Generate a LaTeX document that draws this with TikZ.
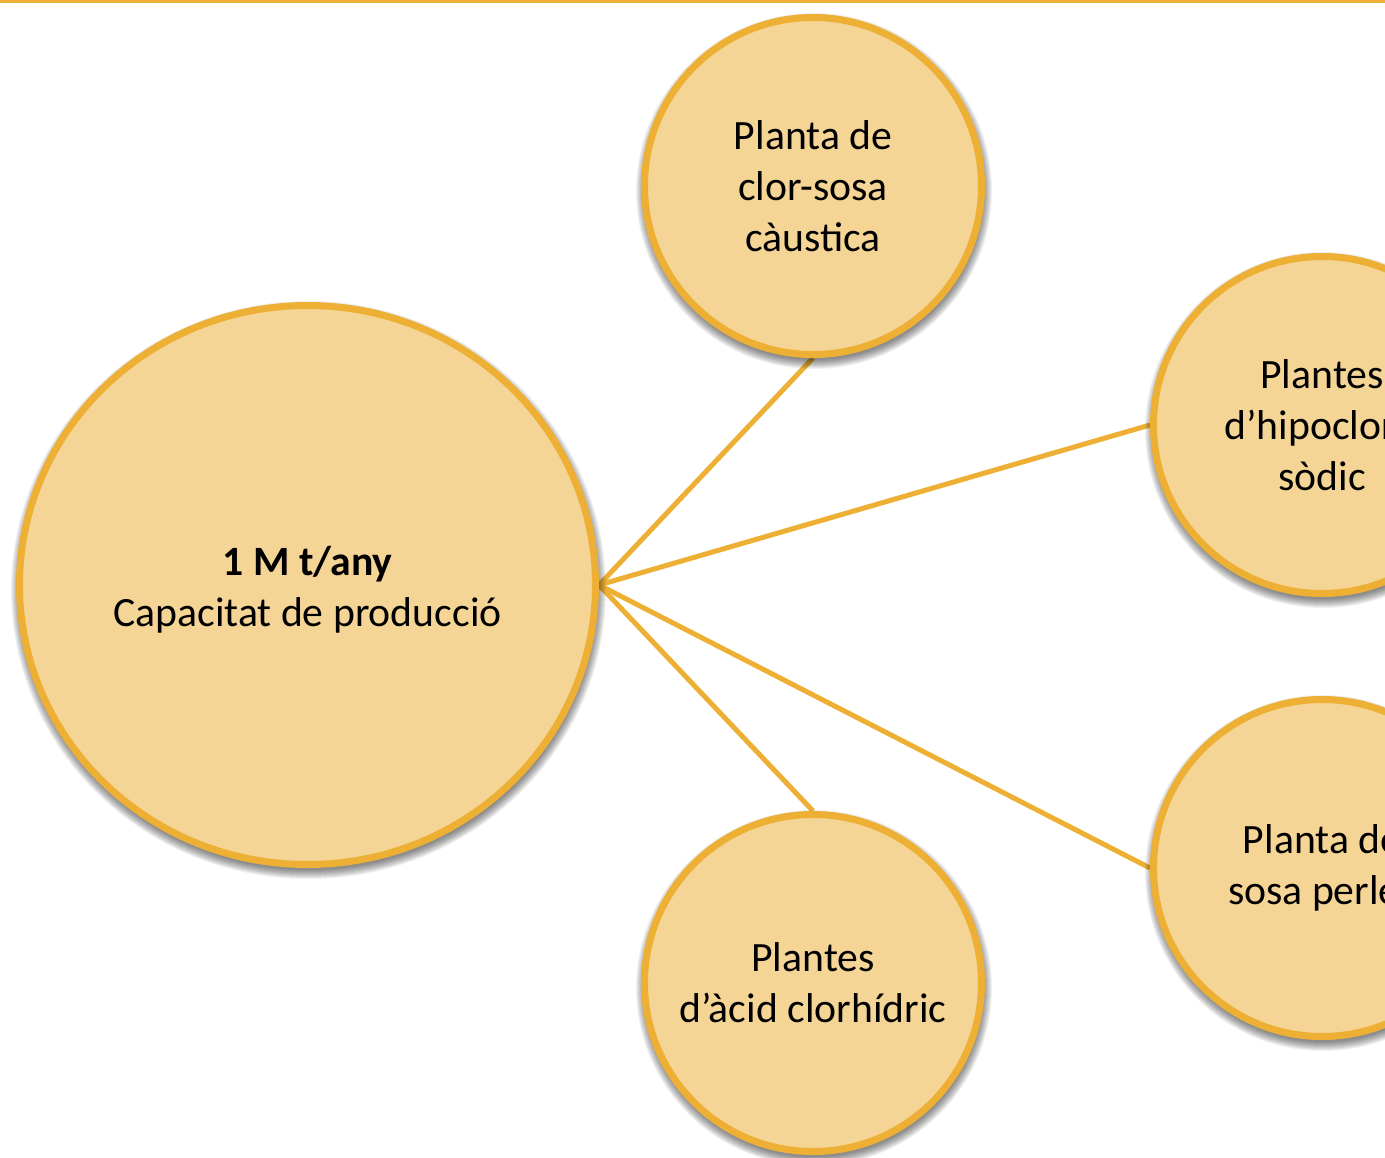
\documentclass[tikz,border=0pt]{standalone}
\usepackage{fontspec}
\setmainfont{Carlito}
\usetikzlibrary{shapes.geometric,backgrounds}
\definecolor{edgeor}{HTML}{EDB034}
\definecolor{fillor}{HTML}{F5D595}
\newcommand\mysoftshadow[4]{%
  \foreach \d in {9,8,...,0}{
    \fill[black, opacity=0.055] (#1+1,#2+5) ellipse ({#3+\d-3} and {#4+\d-3});
  }}
\tikzset{
  txt/.style={align=center, text=black, inner sep=0pt, font=\fontsize{41.7pt}{51pt}\selectfont},
  bubble/.style={circle, draw=edgeor, fill=fillor, line width=7pt, minimum size=337pt, txt},
  bigbubble/.style={ellipse, draw=edgeor, fill=fillor, line width=7pt,
    minimum width=576pt, minimum height=559pt, inner sep=0pt},
  link/.style={draw=edgeor, line width=5pt}
}
\begin{document}
\begin{tikzpicture}[x=1pt,y=-1pt]
\useasboundingbox (0,0) rectangle (1385,1158);
\clip (0,0) rectangle (1385,1158);
\begin{scope}[on background layer]
\fill[white] (0,0) rectangle (1385,1158);
\end{scope}
\fill[edgeor] (0,0) rectangle (1385,3);
% soft shadows
\mysoftshadow{307.5}{585}{291.5}{283}
\mysoftshadow{813}{186}{172}{172}
\mysoftshadow{1322}{425}{172}{172}
\mysoftshadow{1322}{868}{172}{172}
\mysoftshadow{813}{983}{172}{172}
\node[bigbubble] (c) at (307.5,585) {};
\node[txt] (ct) at (307.5,590) {\textbf{1 M t/any}\\Capacitat de producció};
\node[bubble] (t) at (813,186) {Planta de\\clor-sosa\\càustica};
\node[bubble] (r1) at (1322,425) {Plantes\\d’hipoclorit\\sòdic};
\node[bubble] (r2) at (1322,868) {Planta de\\sosa perles};
\node[bubble] (b) at (813,983) {Plantes\\d’àcid clorhídric};
\begin{scope}[on background layer]
\draw[link] (c.east) -- (t.south);
\draw[link] (c.east) -- (r1.west);
\draw[link] (c.east) -- (r2.west);
\draw[link] (c.east) -- (b.north);
\end{scope}
\end{tikzpicture}
\end{document}
